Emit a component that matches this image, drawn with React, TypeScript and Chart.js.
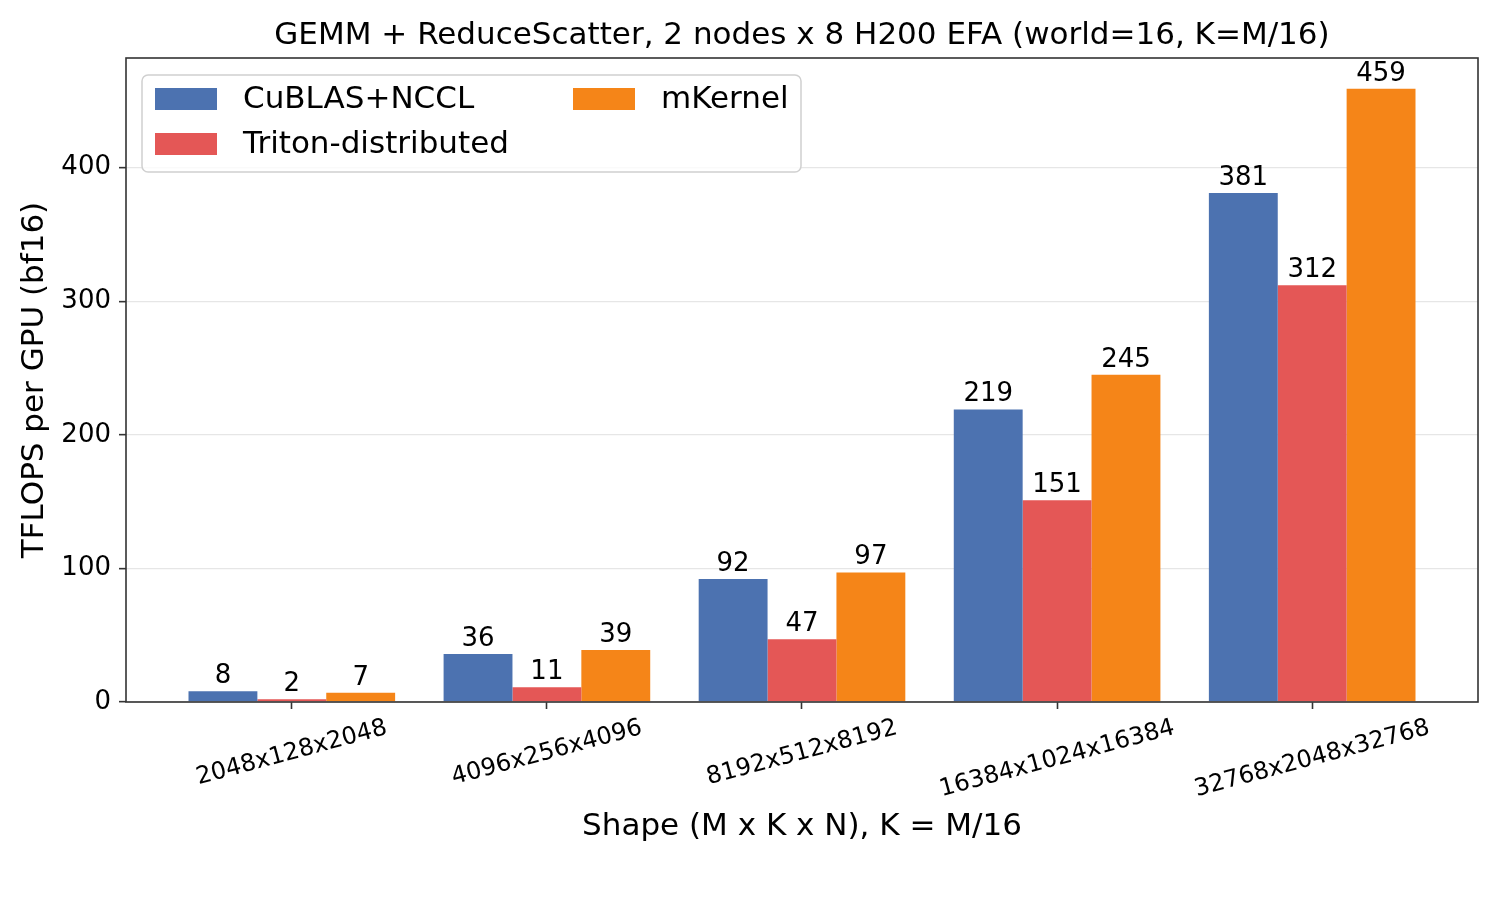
import { useEffect, useRef } from "react"
import { Chart, registerables } from "chart.js"

Chart.register(...registerables)

const FONT = "'DejaVu Sans', sans-serif"

const chartTitle = "GEMM + ReduceScatter, 2 nodes x 8 H200 EFA (world=16, K=M/16)"
const shapes = ["2048x128x2048", "4096x256x4096", "8192x512x8192", "16384x1024x16384", "32768x2048x32768"]
const seriesNames = ["CuBLAS+NCCL", "Triton-distributed", "mKernel"]
const cublasNccl = [8, 36, 92, 219, 381]
const tritonDistributed = [2, 11, 47, 151, 312]
const mKernel = [7, 39, 97, 245, 459]
const yTicks = [0, 100, 200, 300, 400]

const colors = ["#4C72B0", "#E45756", "#F58518"]

// bar value labels, spines, title, rotated x labels and the in-plot legend
const extras = {
  id: "extras",
  afterDatasetsDraw(chart: any) {
    const { ctx } = chart
    ctx.save()
    ctx.font = `26px ${FONT}`
    ctx.fillStyle = "#000"
    ctx.textAlign = "center"
    ctx.textBaseline = "alphabetic"
    chart.data.datasets.forEach((ds: any, i: number) => {
      const meta = chart.getDatasetMeta(i)
      meta.data.forEach((bar: any, j: number) => {
        ctx.fillText(String(Math.round(ds.data[j].y)), bar.x, bar.y - 8)
      })
    })
    ctx.restore()
  },
  afterDraw(chart: any) {
    const { ctx, chartArea } = chart
    const { left, top, right, bottom } = chartArea
    ctx.save()

    // frame
    ctx.strokeStyle = "#333"
    ctx.lineWidth = 1.6
    ctx.strokeRect(left, top, right - left, bottom - top)

    // title, centred over the plot area
    ctx.font = `31px ${FONT}`
    ctx.fillStyle = "#000"
    ctx.textAlign = "center"
    ctx.textBaseline = "middle"
    ctx.fillText(chartTitle, (left + right) / 2, 36)

    // x tick labels, rotated 15deg, centred under tick
    const xScale = chart.scales.x
    ctx.font = `24px ${FONT}`
    const a = (15 * Math.PI) / 180
    shapes.forEach((label, i) => {
      const w = ctx.measureText(label).width
      const h = 28
      const H = w * Math.sin(a) + h * Math.cos(a)
      const cx = xScale.getPixelForValue(i)
      const cy = bottom + 12 + H / 2
      ctx.save()
      ctx.translate(cx, cy)
      ctx.rotate(-a)
      ctx.fillText(label, 0, 0)
      ctx.restore()
    })

    // legend
    const bx = 142, by = 75, bw = 659, bh = 97
    ctx.beginPath()
    ctx.roundRect(bx, by, bw, bh, 6)
    ctx.fillStyle = "rgba(255,255,255,0.8)"
    ctx.fill()
    ctx.strokeStyle = "#d0d0d0"
    ctx.lineWidth = 1.5
    ctx.stroke()
    const slots = [
      { x: 155, y: 99 },
      { x: 155, y: 144 },
      { x: 573, y: 99 },
    ]
    ctx.font = `31px ${FONT}`
    ctx.textAlign = "left"
    chart.data.datasets.forEach((ds: any, i: number) => {
      const s = slots[i]
      ctx.fillStyle = ds.backgroundColor
      ctx.fillRect(s.x, s.y - 11, 62, 22)
      ctx.fillStyle = "#000"
      ctx.fillText(ds.label, s.x + 88, s.y + 1)
    })

    ctx.restore()
  },
}

export default function App() {
  const canvasRef = useRef<HTMLCanvasElement>(null)
  const chartRef = useRef<Chart | null>(null)

  useEffect(() => {
    if (!canvasRef.current) return
    if (chartRef.current) chartRef.current.destroy()

    const series = [cublasNccl, tritonDistributed, mKernel]

    chartRef.current = new Chart(canvasRef.current, {
      type: "bar",
      data: {
        datasets: series.map((vals, i) => ({
          label: seriesNames[i],
          data: vals.map((v, j) => ({ x: j, y: v })),
          backgroundColor: colors[i],
          borderWidth: 0,
          categoryPercentage: 0.81,
          barPercentage: 1,
        })),
      },
      options: {
        responsive: false,
        animation: false,
        devicePixelRatio: 1,
        layout: { padding: { top: 58, left: 0, right: 22, bottom: 0 } },
        plugins: {
          legend: { display: false },
          tooltip: { enabled: false },
          title: { display: false },
        },
        scales: {
          x: {
            type: "linear",
            min: -0.65,
            max: 4.65,
            offset: false,
            afterBuildTicks: (scale: any) => {
              scale.ticks = shapes.map((_, i) => ({ value: i }))
            },
            afterFit: (scale: any) => {
              scale.height = 198
            },
            ticks: { display: false },
            grid: {
              offset: false,
              drawOnChartArea: false,
              drawTicks: true,
              tickLength: 7,
              tickColor: "#333",
              tickWidth: 1.6,
            },
            border: { display: false },
            title: {
              display: true,
              text: "Shape (M x K x N), K = M/16",
              color: "#000",
              font: { family: FONT, size: 31 },
              padding: { top: 0, bottom: 54 },
            },
          },
          y: {
            min: 0,
            max: 482,
            afterBuildTicks: (scale: any) => {
              scale.ticks = yTicks.map((v) => ({ value: v }))
            },
            afterFit: (scale: any) => {
              scale.width = 126
            },
            ticks: {
              color: "#000",
              font: { family: FONT, size: 26 },
              padding: 8,
            },
            grid: {
              color: "#e6e6e6",
              lineWidth: 1.3,
              tickLength: 7,
              tickColor: "#333",
              tickWidth: 1.6,
            },
            border: { display: false },
            title: {
              display: true,
              text: "TFLOPS per GPU (bf16)",
              color: "#000",
              font: { family: FONT, size: 31 },
              padding: { top: 16, bottom: 0 },
            },
          },
        },
      },
      plugins: [extras],
    } as any)

    return () => {
      if (chartRef.current) {
        chartRef.current.destroy()
        chartRef.current = null
      }
    }
  }, [])

  return (
    <div style={{ position: "absolute", left: 0, top: 0, width: 1500, height: 900, background: "#fff" }}>
      <canvas ref={canvasRef} width={1500} height={900} style={{ display: "block" }} />
    </div>
  )
}
